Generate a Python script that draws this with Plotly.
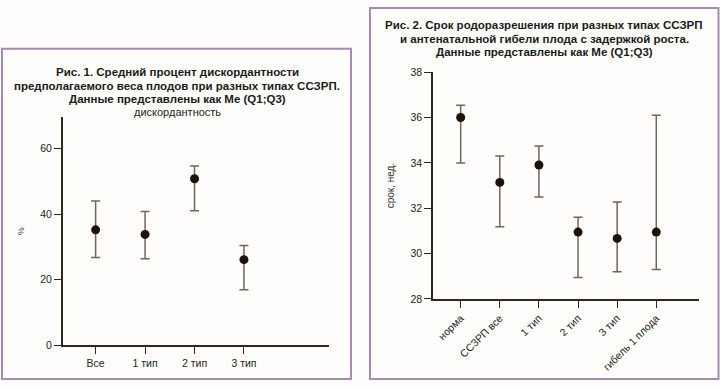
import plotly.graph_objects as go

# ---- Figure 1 data ----
cats1 = ["Все", "1 тип", "2 тип", "3 тип"]
med1 = [35.2, 33.8, 50.8, 26.1]
q1_1 = [26.8, 26.4, 41.0, 16.9]
q3_1 = [44.0, 40.8, 54.7, 30.4]
yticks1 = [0, 20, 40, 60]
title1 = ["Рис. 1. Средний процент дискордантности",
          "предполагаемого веса плодов при разных типах ССЗРП.",
          "Данные представлены как Me (Q1;Q3)"]
subtitle1 = "дискордантность"

# ---- Figure 2 data ----
cats2 = ["норма", "ССЗРП все", "1 тип", "2 тип", "3 тип", "гибель 1 плода"]
med2 = [36.0, 33.14, 33.91, 30.95, 30.67, 30.95]
q1_2 = [34.0, 31.19, 32.5, 28.95, 29.2, 29.3]
q3_2 = [36.54, 34.3, 34.75, 31.6, 32.28, 36.1]
yticks2 = [28, 30, 32, 34, 36, 38]
title2 = ["Рис. 2. Срок родоразрешения при разных типах ССЗРП",
          "и антенатальной гибели плода с задержкой роста.",
          "Данные представлены как Me (Q1;Q3)"]

W, H = 720, 389
AX = "#33261a"
ERR = "#6f665a"
BORDER = "#a98bb0"
FONT = "Liberation Sans, Arial, sans-serif"

def px(x):
    return x / W

def py(y):
    return (H - y) / H

fig = go.Figure()

fig.add_trace(go.Scatter(
    x=list(range(len(cats1))), y=med1, mode="markers",
    marker=dict(size=9, color="#1e130b"),
    error_y=dict(type="data", symmetric=False,
                 array=[b - m for b, m in zip(q3_1, med1)],
                 arrayminus=[m - a for m, a in zip(med1, q1_1)],
                 color=ERR, thickness=1.5, width=4.5),
    xaxis="x", yaxis="y", showlegend=False, cliponaxis=False))

fig.add_trace(go.Scatter(
    x=list(range(len(cats2))), y=med2, mode="markers",
    marker=dict(size=9, color="#1e130b"),
    error_y=dict(type="data", symmetric=False,
                 array=[b - m for b, m in zip(q3_2, med2)],
                 arrayminus=[m - a for m, a in zip(med2, q1_2)],
                 color=ERR, thickness=1.5, width=4.5),
    xaxis="x2", yaxis="y2", showlegend=False, cliponaxis=False))

axcommon = dict(showline=True, linewidth=2, linecolor=AX, showgrid=False,
                zeroline=False, ticks="outside", ticklen=7, tickwidth=1,
                tickcolor=AX, tickfont=dict(family=FONT, size=10.5, color="#222"))

fig.update_layout(
    width=W, height=H, autosize=False, margin=dict(l=0, r=0, t=0, b=0),
    paper_bgcolor="#fffefc", plot_bgcolor="rgba(0,0,0,0)",
    font=dict(family=FONT),
    xaxis=dict(domain=[px(63), px(329)], range=[-0.66, 4.72],
               tickvals=list(range(len(cats1))), ticktext=cats1,
               anchor="y", **axcommon),
    yaxis=dict(domain=[py(350), py(115)], range=[0, 69.5],
               tickvals=yticks1, anchor="x",
               title=dict(text="%", font=dict(family=FONT, size=9, color="#333"),
                          standoff=14),
               **axcommon),
    xaxis2=dict(domain=[px(433.3), px(699.3)], range=[-0.7, 6.1],
                tickvals=list(range(len(cats2))), ticktext=cats2,
                tickangle=-45, anchor="y2", **axcommon),
    yaxis2=dict(domain=[py(302.3), py(68.3)], range=[28, 38],
                tickvals=yticks2, anchor="x2",
                title=dict(text="срок, нед.", font=dict(family=FONT, size=10, color="#333"),
                           standoff=14),
                **axcommon),
)

# panel borders
fig.add_shape(type="rect", xref="paper", yref="paper",
              x0=px(2), x1=px(351), y0=py(385), y1=py(44),
              line=dict(color=BORDER, width=2), layer="below")
fig.add_shape(type="rect", xref="paper", yref="paper",
              x0=px(370), x1=px(718.5), y0=py(385), y1=py(2),
              line=dict(color=BORDER, width=2), layer="below")

# titles
for i, line in enumerate(title1):
    fig.add_annotation(xref="paper", yref="paper", x=px(177), y=py(68.5 + 13.6 * i),
                       yanchor="middle", xanchor="center", showarrow=False,
                       borderpad=0, text="<b>" + line + "</b>",
                       font=dict(family=FONT, size=11.5, color="#1a1a1a"))
fig.add_annotation(xref="paper", yref="paper", x=px(177), y=py(109), yanchor="middle",
                   xanchor="center", showarrow=False, borderpad=0, text=subtitle1,
                   font=dict(family=FONT, size=11, color="#222"))
for i, line in enumerate(title2):
    fig.add_annotation(xref="paper", yref="paper", x=px(544), y=py(20 + 13.6 * i),
                       yanchor="middle", xanchor="center", showarrow=False,
                       borderpad=0, text="<b>" + line + "</b>",
                       font=dict(family=FONT, size=11.5, color="#1a1a1a"))

POST = ("var d=document.documentElement,b=document.body;"
        "[d,b].forEach(function(e){e.style.margin='0';e.style.padding='0';"
        "e.style.overflow='hidden';});")

fig.write_html("out.html", config={"displayModeBar": False}, post_script=POST)
